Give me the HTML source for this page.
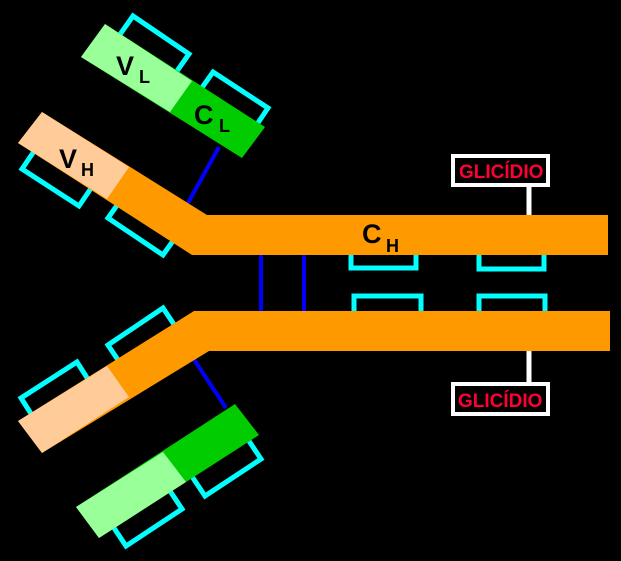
<!DOCTYPE html>
<html><head><meta charset="utf-8"><style>html,body{margin:0;padding:0;background:#000;}svg{display:block;}</style></head>
<body>
<svg width="621" height="561" viewBox="0 0 621 561" xmlns="http://www.w3.org/2000/svg" font-family="Liberation Sans, sans-serif">
<rect width="621" height="561" fill="#000"/>
<g fill="none" stroke="#00ffff" stroke-width="5">
<polygon points="133,16 189,54 165,88 109,50"/>
<polygon points="213,72 268,108 245,142 189,106"/>
<polygon points="22,169 79,206 100,175 43,138"/>
<polygon points="108,218 163,255 185,224 130,187"/>
<polygon points="21,398 77,362 98,395 42,431"/>
<polygon points="108,345 163,308 185,341 130,378"/>
<polygon points="205,496 261,459 239,426 183,463"/>
<polygon points="126,546 182,509 160,476 104,513"/>
<polyline points="351,250 351,268 416,268 416,250"/>
<polyline points="479,250 479,269 544,269 544,250"/>
<polyline points="354,316 354,296 421,296 421,316"/>
<polyline points="479,316 479,296 545,296 545,316"/>
</g>
<g stroke="#0000ff" stroke-width="4">
<line x1="219" y1="147" x2="188" y2="203"/>
<line x1="193" y1="358" x2="226" y2="408"/>
<line x1="261" y1="252" x2="261" y2="313"/>
<line x1="304" y1="252" x2="304" y2="313"/>
</g>
<g stroke="#fff" stroke-width="5">
<line x1="529" y1="186" x2="529" y2="216"/>
<line x1="529" y1="350" x2="529" y2="383"/>
</g>
<polygon points="42,112 207,215 608,215 608,255 192,255 18,143" fill="#ff9900"/>
<polygon points="42,112 129,167 107,199 18,143" fill="#ffcc99"/>
<polygon points="194,311 610,311 610,351 209,351 42,453 18,421" fill="#ff9900"/>
<polygon points="18,421 107,366 129,397 42,453" fill="#ffcc99"/>
<polygon points="105,24 265,127 242,158 81,57" fill="#00cc00"/>
<polygon points="105,24 192,81 170,112 81,57" fill="#99ff99"/>
<polygon points="76,507 235,404 259,435 99,538" fill="#00cc00"/>
<polygon points="76,507 163,452 186,482 99,538" fill="#99ff99"/>
<g fill="#000" font-weight="bold">
<text x="116" y="75" font-size="27">V</text><text x="139" y="83" font-size="18">L</text>
<text x="194" y="124" font-size="27">C</text><text x="219" y="132" font-size="18">L</text>
<text x="59" y="168" font-size="27">V</text><text x="81" y="176" font-size="18">H</text>
<text x="362" y="243" font-size="27">C</text><text x="386" y="252" font-size="18">H</text>
</g>
<rect x="453" y="156" width="95" height="29" fill="#000" stroke="#fff" stroke-width="4"/>
<rect x="453" y="384" width="95" height="30" fill="#000" stroke="#fff" stroke-width="4"/>
<g fill="#ff0033" font-size="19" font-weight="bold">
<text x="459" y="178">GLICÍDIO</text>
<text x="458" y="407">GLICÍDIO</text>
</g>
</svg>
</body></html>
